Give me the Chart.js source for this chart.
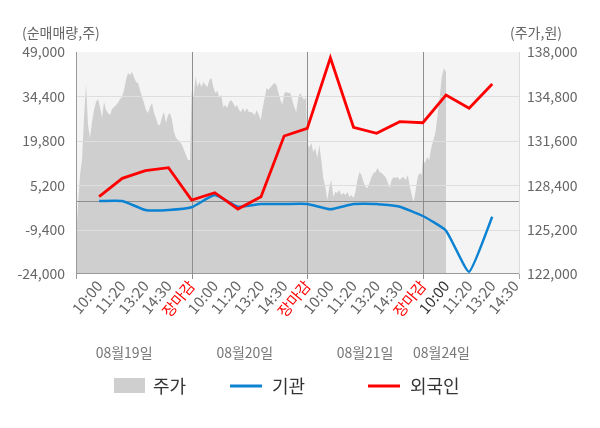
<!DOCTYPE html>
<html>
<head>
<meta charset="utf-8">
<script src="https://cdn.jsdelivr.net/npm/chart.js@4.4.1/dist/chart.umd.min.js"></script>
<style>
html,body{margin:0;padding:0;background:#fff;}
#wrap{width:600px;height:428px;position:relative;}
</style>
</head>
<body>
<div id="wrap"><canvas id="c" width="600" height="428"></canvas></div>
<script>
// ---- data ----
const timeLabels = ['10:00','11:20','13:20','14:30','장마감','10:00','11:20','13:20','14:30','장마감','10:00','11:20','13:20','14:30','장마감','10:00','11:20','13:20','14:30'];
const dateLabels = ['08월19일','08월20일','08월21일','08월24일'];
const institution = [0,0,-2957,-2957,-2069,1975,-1872,-984,-984,-984,-2727,-984,-984,-1872,-4930,-9763,-23244,-5160];
const foreign = [1417,7466,9966,10951,331,2731,-2628,1417,21374,23906,47120,24235,22262,26076,25748,34855,30482,38472];
const priceDay1 = [124450,126970,129140,130220,133240,135690,132740,131800,132950,133820,134400,134610,134040,133240,134400,133820,133600,133460,133890,134040,134180,134320,134610,134760,135260,135980,136490,136340,136560,136200,135840,135770,135260,134760,134320,133820,133600,134040,134320,133600,133240,132740,132740,133320,133680,132880,133460,133600,133100,132230,131800,131660,131510,131300,130940,130580,130220,130220];
const priceDay2 = [135190,134760,136200,135480,135840,135480,135840,135620,135480,135980,136130,135480,135040,135190,134760,134900,134040,134180,133960,134400,134540,134320,134040,134180,133820,133680,133960,133680,133960,133680,133680,133600,133460,133820,133460,133100,133960,134680,135400,135260,135480,135620,135770,135620,135040,134540,134180,135040,135120,135040,135040,134540,134040,133680,134680,135040,134760,134540,134760];
const priceDay3 = [131440,131080,131440,130790,131080,130360,131300,130220,128920,128270,127330,128270,128770,127550,127910,127840,128050,127690,127840,127690,127910,127550,127690,127480,127910,128770,129350,129140,128630,128270,128200,128560,128990,129280,129350,129640,129350,129280,129140,128990,128630,128200,128770,128990,128920,128990,128770,128920,128990,128770,129140,128410,127690,127190,128050,128990,129280,129140];
const priceDay4 = [130220,130000,130430,130220,131080,131660,132230,133460,134760,136200,136850,136560];
const leftTicks = [-24000,-9400,5200,19800,34400,49000];
const rightTicks = [122000,125200,128400,131600,134800,138000];

// ---- build ----
const FONT = "'Noto Sans CJK KR','Noto Sans',sans-serif";
const days = [
  {p: priceDay1, start: 0, span: 4.93},
  {p: priceDay2, start: 5, span: 4.95},
  {p: priceDay3, start: 10, span: 4.95},
  {p: priceDay4, start: 15, span: 1.0}
];
const areaPts = [];
days.forEach(d => {
  d.p.forEach((v, i) => areaPts.push({x: d.start + d.span * i / (d.p.length - 1), y: v}));
});
const instPts = institution.map((v, i) => ({x: i + 1, y: v}));
const forPts = foreign.map((v, i) => ({x: i + 1, y: v}));
const fmt = v => v.toLocaleString('en-US');

const decor = {
  id: 'decor',
  beforeDatasetsDraw(chart) {
    const {ctx, chartArea: a} = chart;
    ctx.save();
    ctx.fillStyle = '#f4f4f4';
    ctx.fillRect(a.left, a.top, a.right - a.left, a.bottom - a.top);
    ctx.restore();
  },
  afterDatasetDraw(chart, args) {
    if (args.index !== 0) return;
    const {ctx, chartArea: a, scales} = chart;
    const y = scales.y1, x = scales.x;
    ctx.save();
    ctx.lineWidth = 1;
    leftTicks.forEach(t => {
      if (t === leftTicks[0] || t === leftTicks[leftTicks.length - 1]) return;
      const py = Math.round(y.getPixelForValue(t)) + 0.5;
      ctx.strokeStyle = '#dedede';
      ctx.beginPath(); ctx.moveTo(a.left, py); ctx.lineTo(a.right, py); ctx.stroke();
    });
    const zy = Math.round(y.getPixelForValue(0)) + 0.5;
    ctx.strokeStyle = '#8e8e8e';
    ctx.beginPath(); ctx.moveTo(a.left, zy); ctx.lineTo(a.right, zy); ctx.stroke();
    [5, 10, 15].forEach(k => {
      const px = Math.round(x.getPixelForValue(k)) + 0.5;
      ctx.strokeStyle = '#8e8e8e';
      ctx.beginPath(); ctx.moveTo(px, a.top); ctx.lineTo(px, a.bottom + 5); ctx.stroke();
    });
    ctx.strokeStyle = '#999';
    const by = Math.round(a.bottom) - 0.5;
    ctx.beginPath(); ctx.moveTo(a.left, by); ctx.lineTo(a.right, by); ctx.stroke();
    const lx = Math.round(a.left) + 0.5;
    ctx.beginPath(); ctx.moveTo(lx, a.top); ctx.lineTo(lx, a.bottom + 5); ctx.stroke();
    const rx = Math.round(a.right) - 0.5;
    ctx.strokeStyle = '#dcdcdc';
    ctx.beginPath(); ctx.moveTo(rx, a.top); ctx.lineTo(rx, a.bottom); ctx.stroke();
    ctx.strokeStyle = '#aaa';
    ctx.beginPath(); ctx.moveTo(rx, a.bottom); ctx.lineTo(rx, a.bottom + 5); ctx.stroke();
    ctx.restore();
  },
  afterDraw(chart) {
    const {ctx, scales} = chart;
    const x = scales.x;
    ctx.save();
    // axis titles
    ctx.font = '14px ' + FONT;
    ctx.fillStyle = '#666';
    ctx.textBaseline = 'middle';
    ctx.textAlign = 'left';
    ctx.fillText('(순매매량,주)', 22, 33);
    ctx.textAlign = 'right';
    ctx.fillText('(주가,원)', 562, 33);
    // date labels
    const datePos = [2.08, 7.3, 12.5, 15.8];
    ctx.font = '14px ' + FONT;
    ctx.fillStyle = '#777';
    ctx.textAlign = 'center';
    dateLabels.forEach((d, i) => ctx.fillText(d, x.getPixelForValue(datePos[i]), 353));
    // legend
    ctx.font = '18px ' + FONT;
    ctx.fillStyle = '#cfcfcf';
    ctx.fillRect(114, 378, 31, 15);
    ctx.fillStyle = '#333';
    ctx.textAlign = 'left';
    ctx.fillText('주가', 153, 386);
    ctx.strokeStyle = '#0b82d2'; ctx.lineWidth = 3;
    ctx.beginPath(); ctx.moveTo(230, 386); ctx.lineTo(262, 386); ctx.stroke();
    ctx.fillText('기관', 272, 386);
    ctx.strokeStyle = '#ff0000';
    ctx.beginPath(); ctx.moveTo(368, 386); ctx.lineTo(400, 386); ctx.stroke();
    ctx.fillText('외국인', 410, 386);
    ctx.restore();
  }
};

new Chart(document.getElementById('c'), {
  type: 'line',
  data: {
    datasets: [
      {label: '주가', data: areaPts, yAxisID: 'y2', fill: 'start', backgroundColor: '#cfcfcf', borderWidth: 0, pointRadius: 0, tension: 0, order: 3},
      {label: '기관', data: instPts, yAxisID: 'y1', borderColor: '#0b82d2', borderWidth: 2.5, pointRadius: 0, tension: 0.15, fill: false, order: 2},
      {label: '외국인', data: forPts, yAxisID: 'y1', borderColor: '#ff0000', borderWidth: 2.8, pointRadius: 0, tension: 0, fill: false, order: 1}
    ]
  },
  options: {
    responsive: false,
    animation: false,
    devicePixelRatio: 1,
    layout: {padding: {top: 52, left: 0, right: 0, bottom: 0}},
    plugins: {legend: {display: false}, tooltip: {enabled: false}},
    scales: {
      x: {
        type: 'linear', min: 0, max: 19.2,
        grid: {display: false, drawTicks: false}, border: {display: false},
        afterBuildTicks: s => { s.ticks = timeLabels.map((_, i) => ({value: i + 1})); },
        afterFit: s => { s.height = 154; },
        ticks: {
          autoSkip: false, minRotation: 50, maxRotation: 50, padding: 3,
          font: {size: 15, family: FONT},
          color: c => (timeLabels[c.index] === '장마감' ? '#ff0000' : (c.index === 15 ? '#333' : '#666')),
          callback: (v, i) => timeLabels[i]
        }
      },
      y1: {
        type: 'linear', position: 'left', min: -24000, max: 49000,
        grid: {display: false, drawTicks: false}, border: {display: false},
        afterBuildTicks: s => { s.ticks = leftTicks.map(v => ({value: v})); },
        afterFit: s => { s.width = 76; },
        ticks: {padding: 11, color: '#666', font: {size: 14, family: FONT}, callback: v => fmt(v)}
      },
      y2: {
        type: 'linear', position: 'right', min: 122000, max: 138000,
        grid: {display: false, drawTicks: false}, border: {display: false},
        afterBuildTicks: s => { s.ticks = rightTicks.map(v => ({value: v})); },
        afterFit: s => { s.width = 80; },
        ticks: {padding: 7, color: '#666', font: {size: 14, family: FONT}, callback: v => fmt(v)}
      }
    }
  },
  plugins: [decor]
});
</script>
</body>
</html>
